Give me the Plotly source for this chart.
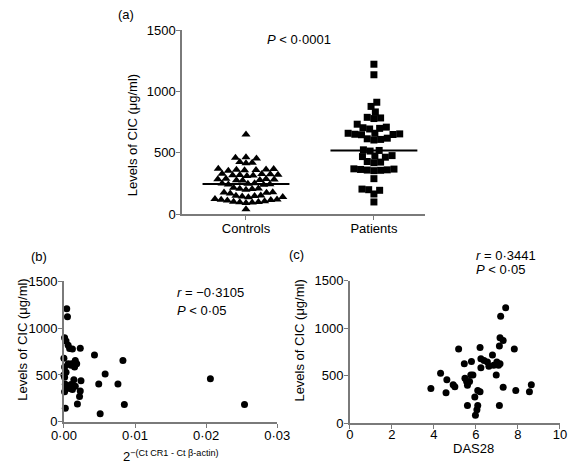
import numpy as np
import plotly.graph_objects as go

# ---------------- data ----------------
group_labels = ["Controls", "Patients"]
controls = [650, 460, 455, 465, 425, 420, 415, 370, 365, 360, 355, 362, 358, 368,
            320, 325, 318, 315, 322, 328, 312, 330, 285, 280, 278, 290, 275, 283, 288,
            250, 245, 248, 252, 240, 243, 210, 205, 200, 215, 208, 180, 175, 170, 178,
            150, 145, 140, 148, 152, 138, 120, 115, 125, 118, 112, 100, 98, 95, 105, 92,
            102, 40]
patients = [1223, 1137, 913, 879, 834, 790, 780, 785, 734, 700, 705, 695, 710, 660, 650,
            655, 660, 648, 652, 615, 605, 620, 610, 525, 515, 520, 478, 470, 465, 475,
            430, 425, 420, 365, 360, 370, 355, 362, 368, 358, 290, 200, 195, 205, 165, 100]
control_median = 247
patient_median = 519

b_x = [0.0004, 0.0005, 0.0001, 0.0003, 0.0006, 0.0008, 0.0012, 0.0023, 0.0000, 0.0006,
       0.0011, 0.0018, 0.0016, 0.0043, 0.0083, 0.0001, 0.0003, 0.0010, 0.0015, 0.0058,
       0.0000, 0.0001, 0.0014, 0.0024, 0.0049, 0.0076, 0.0206, 0.0006, 0.0010, 0.0008,
       0.0012, 0.0004, 0.0001, 0.0023, 0.0022, 0.0019, 0.0002, 0.0051, 0.0085, 0.0254,
       0.0016, 0.0002]
b_y = [1207, 1121, 897, 862, 817, 783, 776, 786, 679, 620,
       620, 620, 655, 714, 655, 586, 528, 603, 586, 510,
       500, 476, 448, 438, 403, 403, 459, 380, 397, 355,
       345, 370, 320, 328, 270, 190, 145, 86, 183, 183,
       380, 400]

c_x = [3.86, 4.32, 4.62, 4.58, 4.92, 5.0, 5.18, 5.45, 5.48, 5.56, 5.6, 5.7, 5.76, 5.79,
       5.6, 5.86, 6.09, 6.2, 5.95, 6.09, 6.05, 5.98, 6.2, 6.24, 6.24, 6.39, 6.55, 6.62,
       6.79, 6.85, 7.0, 7.08, 7.15, 6.97, 7.12, 7.15, 7.3, 7.18, 7.42, 7.12, 7.3, 7.9,
       7.83, 8.64, 8.55]
c_y = [367, 526, 458, 322, 407, 384, 781, 628, 475, 441, 400, 441, 509, 652,
       187, 509, 346, 333, 278, 187, 143, 85, 798, 679, 584, 662, 645, 601,
       720, 611, 645, 611, 628, 509, 815, 900, 872, 1127, 1215, 187, 380, 346,
       781, 407, 333]

b_xticks = [0, 0.01, 0.02, 0.03]
b_xticktext = ["0·00", "0·01", "0·02", "0·03"]
y_ticks = [0, 500, 1000, 1500]

# ---------------- layout helpers ----------------
W, H = 577, 474
FONT = "Liberation Sans, Arial, Helvetica, sans-serif"
AX = "#7a7a7a"


def px_x(p):
    return p / W


def px_y(p):
    return 1 - p / H


# panel (a) geometry in pixels
A_X0, A_X1 = 177, 431
A_Y0, A_Y1 = 214, 24
A_RANGE = [-0.5, 1.396]
x_ppu = (A_X1 - A_X0) / (A_RANGE[1] - A_RANGE[0])
y_ppu = (A_Y0 - A_Y1) / 1500.0


def beeswarm(vals, d):
    """greedy beeswarm: returns x offsets in data units"""
    vals = np.asarray(vals, float)
    order = np.argsort(vals)
    placed = []
    offs = np.zeros(len(vals))
    for i in order:
        y = vals[i] * y_ppu
        best = 0.0
        found = False
        for k in range(0, 400):
            for sgn in (1, -1):
                off = sgn * k * 0.5
                if all((off - ox) ** 2 + (y - oy) ** 2 >= d * d for ox, oy in placed):
                    best = off
                    found = True
                    break
            if found:
                break
        placed.append((best, y))
        offs[i] = best / x_ppu
    return offs


c_off = beeswarm(controls, 6.3)
p_off = beeswarm(patients, 7.0)

fig = go.Figure()

fig.add_trace(go.Scatter(
    x=0 + c_off, y=controls, mode="markers", xaxis="x", yaxis="y",
    marker=dict(symbol="triangle-up", size=8, color="black"), cliponaxis=False))
fig.add_trace(go.Scatter(
    x=1 + p_off, y=patients, mode="markers", xaxis="x", yaxis="y",
    marker=dict(symbol="square", size=7, color="black"), cliponaxis=False))
half = 45.5 / x_ppu
fig.add_trace(go.Scatter(
    x=[0 - half, 0 + half], y=[control_median] * 2, mode="lines", xaxis="x", yaxis="y",
    line=dict(color="black", width=2)))
fig.add_trace(go.Scatter(
    x=[1 - half, 1 + half], y=[patient_median] * 2, mode="lines", xaxis="x", yaxis="y",
    line=dict(color="black", width=2)))

fig.add_trace(go.Scatter(
    x=b_x, y=b_y, mode="markers", xaxis="x2", yaxis="y2",
    marker=dict(symbol="circle", size=7, color="black"), cliponaxis=False))
fig.add_trace(go.Scatter(
    x=c_x, y=c_y, mode="markers", xaxis="x3", yaxis="y3",
    marker=dict(symbol="circle", size=7, color="black"), cliponaxis=False))

axis_common = dict(showline=True, linecolor=AX, linewidth=1.6, ticks="outside",
                   ticklen=4, tickwidth=1.4, tickcolor=AX, showgrid=False, zeroline=False,
                   tickfont=dict(family=FONT, size=13, color="black"), fixedrange=True)

fig.update_layout(
    width=W, height=H, margin=dict(l=0, r=0, t=0, b=0),
    paper_bgcolor="white", plot_bgcolor="white", showlegend=False,
    font=dict(family=FONT, size=13, color="black"),
    xaxis=dict(domain=[px_x(A_X0), px_x(A_X1)], range=A_RANGE, anchor="y",
               tickvals=[0, 1], ticktext=group_labels, ticklabelstandoff=-3, **axis_common),
    yaxis=dict(domain=[px_y(A_Y0), px_y(A_Y1)], range=[0, 1500], anchor="x",
               tickvals=y_ticks, ticklabelstandoff=-2, **axis_common),
    xaxis2=dict(domain=[px_x(53.3), px_x(276.7)], range=[0, 0.03], anchor="y2",
                tickvals=b_xticks, ticktext=b_xticktext, ticklabelstandoff=-3, **axis_common),
    yaxis2=dict(domain=[px_y(428.3), px_y(283.3)], range=[0, 1500], anchor="x2",
                tickvals=y_ticks, ticklabelstandoff=-2, **axis_common),
    xaxis3=dict(domain=[px_x(352.7), px_x(572.7)], range=[0, 10], anchor="y3",
                tickvals=[0, 2, 4, 6, 8, 10], ticklabelstandoff=-6, **axis_common),
    yaxis3=dict(domain=[px_y(430), px_y(282.7)], range=[0, 1500], anchor="x3",
                tickvals=y_ticks, ticklabelstandoff=-2, **axis_common),
)


def ann(text, x, y, xanchor="center", angle=0, size=13):
    fig.add_annotation(text=text, x=px_x(x), y=px_y(y), xref="paper", yref="paper",
                       xanchor=xanchor, yanchor="middle", showarrow=False,
                       textangle=angle, font=dict(family=FONT, size=size, color="black"))


ytitle = "Levels of CIC (μg/ml)"
ann("(a)", 118, 8)
ann("<i>P</i> < 0·0001", 300, 34)
ann(ytitle, 125, 132, angle=-90)

ann("(b)", 27, 258)
ann("<i>r</i> = −0·3105", 170, 295, xanchor="left")
ann("<i>P</i> < 0·05", 170, 313, xanchor="left")
ann(ytitle, 10, 344, angle=-90)
ann("2<sup>−(Ct CR1 - Ct β-actin)</sup>", 165, 464)

ann("(c)", 297, 256)
ann("<i>r</i> = 0·3441", 483, 257, xanchor="left")
ann("<i>P</i> < 0·05", 483, 271, xanchor="left")
ann(ytitle, 300, 344, angle=-90)
ann("DAS28", 482, 456)

fig.write_html("out.html", config={"displayModeBar": False},
               post_script="document.body.style.margin='0';document.body.style.overflow='hidden';")
